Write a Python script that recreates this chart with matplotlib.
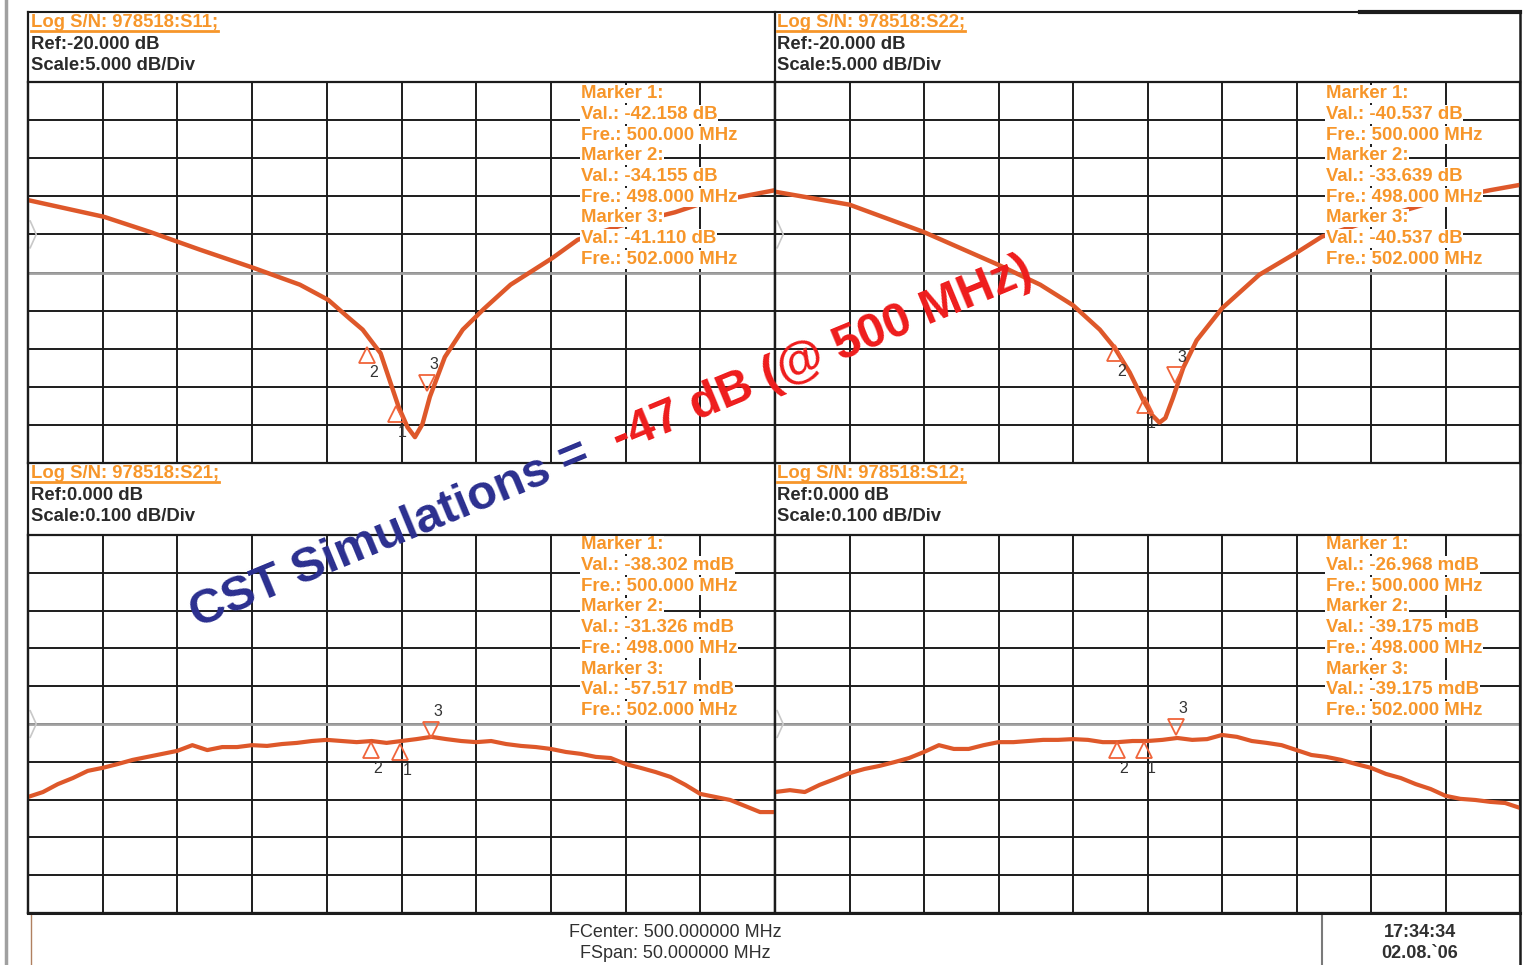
import numpy as np
import matplotlib
matplotlib.use("Agg")
import matplotlib.pyplot as plt
from matplotlib.lines import Line2D

plt.rcParams["font.family"] = ["Liberation Sans", "DejaVu Sans"]

W, H = 1526, 965

# --- data (frequency in MHz, level in dB) ---
freq_span = (475.0, 525.0)

s11_freq = [475.0, 480.1, 483.2, 486.5, 490.1, 493.2, 495.1, 496.5, 497.4, 498.6,
            499.8, 500.4, 500.9, 501.4, 501.9, 502.9, 504.1, 505.5, 507.3, 510.1,
            511.8, 514.6, 518.3, 520.0, 522.6, 525.0]
s11_db = [-15.5, -17.7, -19.7, -22.0, -24.4, -26.6, -28.6, -31.0, -32.5, -35.6,
          -42.6, -45.3, -46.6, -44.9, -41.3, -36.1, -32.5, -29.8, -26.6, -23.1,
          -20.7, -18.9, -17.1, -16.0, -15.1, -14.2]

s22_freq = [475.0, 480.0, 485.0, 490.0, 492.8, 495.0, 496.8, 497.8, 498.8, 499.7,
            500.3, 500.8, 501.2, 501.7, 502.4, 503.3, 505.0, 507.5, 510.0, 511.7,
            515.6, 519.6, 523.0, 525.0]
s22_db = [-14.4, -16.1, -19.7, -24.0, -26.6, -29.3, -32.5, -34.9, -38.1, -41.7,
          -43.7, -44.7, -44.1, -41.5, -37.5, -33.9, -29.7, -25.3, -22.4, -20.3,
          -17.8, -15.5, -14.2, -13.5]

sweep_freq = list(range(475, 526))
s21_db = [-0.193, -0.180, -0.159, -0.143, -0.124, -0.116, -0.106, -0.095, -0.087, -0.079,
          -0.071, -0.056, -0.069, -0.061, -0.061, -0.056, -0.058, -0.053, -0.050, -0.045,
          -0.042, -0.045, -0.048, -0.045, -0.050, -0.045, -0.040, -0.034, -0.040, -0.045,
          -0.048, -0.045, -0.053, -0.058, -0.061, -0.066, -0.074, -0.079, -0.087, -0.090,
          -0.106, -0.116, -0.127, -0.140, -0.161, -0.185, -0.193, -0.201, -0.217, -0.233,
          -0.233]
s12_db = [-0.180, -0.175, -0.180, -0.161, -0.146, -0.130, -0.119, -0.111, -0.101, -0.090,
          -0.074, -0.056, -0.066, -0.066, -0.056, -0.048, -0.048, -0.045, -0.042, -0.042,
          -0.040, -0.042, -0.048, -0.048, -0.045, -0.045, -0.042, -0.037, -0.042, -0.040,
          -0.029, -0.034, -0.045, -0.050, -0.056, -0.069, -0.082, -0.087, -0.095, -0.106,
          -0.116, -0.132, -0.143, -0.159, -0.172, -0.190, -0.198, -0.201, -0.206, -0.209,
          -0.222]

# marker triangles as drawn (marker 1, 2, 3)
s11_mk_freq = [499.6, 497.7, 501.7]
s11_mk_db = [-43.6, -35.8, -39.5]
s22_mk_freq = [499.8, 497.8, 501.85]
s22_mk_db = [-42.4, -35.6, -38.5]
s21_mk_freq = [499.9, 497.96, 501.97]
s21_mk_db = [-0.074, -0.069, -0.016]
s12_mk_freq = [499.77, 497.95, 501.9]
s12_mk_db = [-0.069, -0.069, -0.008]

titles = ["Log S/N: 978518:S11;", "Log S/N: 978518:S22;",
          "Log S/N: 978518:S21;", "Log S/N: 978518:S12;"]
refs = ["Ref:-20.000 dB", "Ref:-20.000 dB", "Ref:0.000 dB", "Ref:0.000 dB"]
scales = ["Scale:5.000 dB/Div", "Scale:5.000 dB/Div",
          "Scale:0.100 dB/Div", "Scale:0.100 dB/Div"]
marker_vals = [["-42.158 dB", "-34.155 dB", "-41.110 dB"],
               ["-40.537 dB", "-33.639 dB", "-40.537 dB"],
               ["-38.302 mdB", "-31.326 mdB", "-57.517 mdB"],
               ["-26.968 mdB", "-39.175 mdB", "-39.175 mdB"]]
marker_fre = ["500.000 MHz", "498.000 MHz", "502.000 MHz"]

TRACE = "#de582a"
ORANGE = "#f7962a"
DARK = "#2a2a2a"


def fx(x):
    return x / W


def fy(y):
    return 1 - y / H


fig = plt.figure(figsize=(W / 100, H / 100), dpi=100)
renderer = fig.canvas.get_renderer()


def panel(x0, x1, y0, y1, ylim, ref_frac):
    ax = fig.add_axes([fx(x0), fy(y1), (x1 - x0) / W, (y1 - y0) / H])
    ax.set_xlim(*freq_span)
    ax.set_ylim(*ylim)
    ax.set_xticks(np.linspace(freq_span[0], freq_span[1], 11))
    ax.set_yticks(np.linspace(ylim[0], ylim[1], 11))
    ax.grid(True, color="#1c1c1c", lw=1.4)
    ax.set_axisbelow(True)
    ax.tick_params(length=0, labelbottom=False, labelleft=False)
    for s in ax.spines.values():
        s.set_color("#1c1c1c")
        s.set_linewidth(1.6)
    ax.axhline(ylim[0] + 0.5 * (ylim[1] - ylim[0]), color="#a0a0a0", lw=2.0, zorder=1.5)
    # reference position indicator
    ax.plot([0.003, 0.011, 0.003], [ref_frac + 0.035, ref_frac, ref_frac - 0.035],
            transform=ax.transAxes, color="#c8c8c8", lw=1.2, clip_on=False)
    return ax


def draw_markers(ax, fr, db):
    ax.plot(fr[:2], db[:2], ls="none", marker="^", ms=11, mfc="none",
            mec="#f0643a", mew=1.3, zorder=4)
    ax.plot(fr[2:], db[2:], ls="none", marker="v", ms=11, mfc="none",
            mec="#f0643a", mew=1.3, zorder=4)
    for i, (f, d) in enumerate(zip(fr, db)):
        dy = 13 if i == 2 else -13
        ax.annotate(str(i + 1), (f, d), xytext=(5, dy), textcoords="offset points",
                    ha="center", va="center", fontsize=11.5, color="#333333", zorder=5)


ax11 = panel(28, 775, 82, 463, (-50, 0), 0.6)
ax22 = panel(775, 1520, 82, 463, (-50, 0), 0.6)
ax21 = panel(28, 775, 535, 913, (-0.5, 0.5), 0.5)
ax12 = panel(775, 1520, 535, 913, (-0.5, 0.5), 0.5)

ax11.plot(s11_freq, s11_db, color=TRACE, lw=3.2, solid_capstyle="round", zorder=3)
ax22.plot(s22_freq, s22_db, color=TRACE, lw=3.2, solid_capstyle="round", zorder=3)
ax21.plot(sweep_freq, s21_db, color=TRACE, lw=3.0, zorder=3)
ax12.plot(sweep_freq, s12_db, color=TRACE, lw=3.0, zorder=3)

draw_markers(ax11, s11_mk_freq, s11_mk_db)
draw_markers(ax22, s22_mk_freq, s22_mk_db)
draw_markers(ax21, s21_mk_freq, s21_mk_db)
draw_markers(ax12, s12_mk_freq, s12_mk_db)

# frame lines
frame = [((6, 6), (0, 965), "#a0a0a0", 2.5),
         ((28, 1520), (12, 12), "#1c1c1c", 1.5),
         ((1360, 1520), (12, 12), "#1c1c1c", 3.0),
         ((28, 28), (12, 913), "#1c1c1c", 1.6),
         ((775, 775), (12, 913), "#1c1c1c", 1.6),
         ((1520, 1520), (12, 965), "#1c1c1c", 1.8),
         ((31, 31), (913, 965), "#b08060", 1.0),
         ((1322, 1322), (913, 965), "#7a7a7a", 1.5),
         ((28, 1520), (913, 913), "#1c1c1c", 2.2)]
for xs, ys, c, lw in frame:
    fig.add_artist(Line2D([fx(v) for v in xs], [fy(v) for v in ys], color=c, lw=lw))

# panel headers and marker readouts
origins = [(31, 0), (777, 0), (31, 451), (777, 451)]
for k, (x0, dy) in enumerate(origins):
    t = fig.text(fx(x0), fy(27 + dy), titles[k], fontsize=13.3, color=ORANGE,
                 fontweight="bold", va="baseline", ha="left")
    bb = t.get_window_extent(renderer)
    fig.add_artist(Line2D([bb.x0 / W, bb.x1 / W], [fy(31 + dy)] * 2, color=ORANGE, lw=2.0))
    fig.text(fx(x0), fy(49 + dy), refs[k], fontsize=13.3, color=DARK,
             fontweight="bold", va="baseline")
    fig.text(fx(x0), fy(70 + dy), scales[k], fontsize=13.3, color=DARK,
             fontweight="bold", va="baseline")

    mx = 581 if x0 < 700 else 1326
    lines = []
    for m in range(3):
        lines += [f"Marker {m + 1}:", f"Val.: {marker_vals[k][m]}", f"Fre.: {marker_fre[m]}"]
    for j, s in enumerate(lines):
        fig.text(fx(mx), fy(98.3 + 20.7 * j + dy), s, fontsize=13.4, fontweight="bold",
                 color=ORANGE, va="baseline", ha="left", zorder=6,
                 bbox=dict(fc="white", ec="none", pad=0.6))

# footer
fig.text(fx(675), fy(937), "FCenter: 500.000000 MHz", fontsize=13, color="#303030",
         ha="center", va="baseline")
fig.text(fx(675), fy(958), "FSpan: 50.000000 MHz", fontsize=13, color="#303030",
         ha="center", va="baseline")
fig.text(fx(1420), fy(937), "17:34:34", fontsize=13, color="#303030",
         ha="center", va="baseline", fontweight="bold")
fig.text(fx(1420), fy(958), "02.08.`06", fontsize=13, color="#303030",
         ha="center", va="baseline", fontweight="bold")

# overlay annotation
fig.text(fx(197), fy(628), "CST Simulations =", fontsize=35, fontweight="bold",
         color="#2b2f8f", rotation=22.5, rotation_mode="anchor",
         ha="left", va="baseline", zorder=10)
fig.text(fx(619), fy(453), "-47 dB (@ 500 MHz)", fontsize=35, fontweight="bold",
         color="#ee1c1c", rotation=22.5, rotation_mode="anchor",
         ha="left", va="baseline", zorder=10)

fig.savefig("out.png", dpi=100, facecolor="white")
